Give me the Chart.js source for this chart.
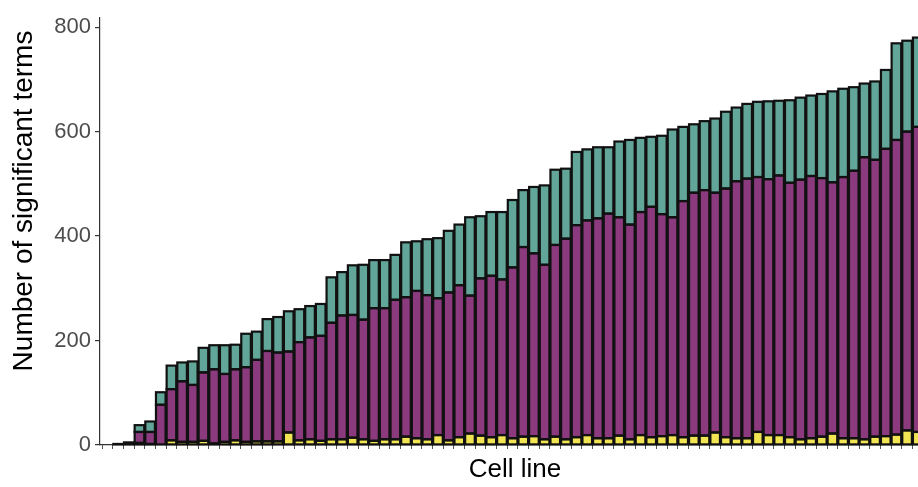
<!DOCTYPE html>
<html>
<head>
<meta charset="utf-8">
<script src="https://cdn.jsdelivr.net/npm/chart.js@4/dist/chart.umd.min.js"></script>
<style>
  html, body { margin: 0; padding: 0; background: #ffffff; overflow: hidden; }
  #wrap { position: relative; width: 918px; height: 487px; overflow: hidden; }
  #wrap canvas { position: absolute; left: 0; top: 0; }
</style>
</head>
<body>
<div id="wrap"><canvas id="chart" width="930" height="487"></canvas></div>
<script>
// Significant terms per cell line, split into three stacked groups (bottom to top).
const yellowCounts = [
  0, 0, 0, 4, 2, 0, 9, 6, 6, 8, 3, 6, 9, 6, 7, 7, 7, 24, 9, 11,
  8, 11, 11, 14, 11, 8, 11, 11, 16, 13, 11, 19, 9, 15, 22, 18, 15, 19, 13, 16,
  17, 11, 16, 11, 15, 19, 13, 13, 18, 11, 19, 15, 17, 19, 15, 18, 18, 24, 15, 13,
  13, 25, 19, 19, 15, 11, 13, 16, 22, 13, 13, 11, 16, 17, 20, 28, 25
];
const purpleCounts = [
  0, 2, 5, 21, 23, 77, 98, 116, 109, 131, 142, 130, 136, 143, 156, 173, 170, 155, 188, 195,
  201, 223, 237, 235, 229, 254, 251, 267, 267, 282, 276, 262, 283, 291, 264, 301, 309, 298, 327, 363,
  350, 334, 367, 384, 406, 411, 421, 430, 418, 411, 427, 441, 425, 417, 452, 465, 470, 459, 476, 492,
  497, 488, 490, 497, 487, 497, 502, 495, 481, 500, 512, 540, 530, 550, 564, 572, 584
];
const tealCounts = [
  0, 0, 0, 13, 20, 24, 45, 36, 45, 47, 46, 55, 47, 64, 54, 61, 68, 77, 63, 60,
  61, 87, 83, 95, 105, 92, 92, 86, 105, 95, 107, 115, 118, 116, 150, 119, 122, 129, 129, 109,
  127, 152, 144, 134, 140, 136, 136, 127, 145, 162, 142, 134, 150, 168, 142, 131, 132, 142, 147, 141,
  143, 144, 149, 143, 158, 157, 154, 161, 174, 169, 160, 141, 150, 151, 185, 174, 171
];
// Cell lines are placed in rank order along the x axis.
const cellLines = yellowCounts.map((_, i) => i);
const yTickValues = [0, 200, 400, 600, 800];
const xTitle = 'Cell line';
const yTitle = 'Number of significant terms';

const FONT = '"Liberation Sans", Arial, Helvetica, sans-serif';

// Rotated y-axis title, placed beside the tick labels.
const yTitlePlugin = {
  id: 'yTitle',
  afterDraw(chart) {
    const ctx = chart.ctx;
    ctx.save();
    ctx.translate(24, 201);
    ctx.rotate(-Math.PI / 2);
    ctx.font = '28px ' + FONT;
    ctx.fillStyle = '#000000';
    ctx.textAlign = 'center';
    ctx.textBaseline = 'middle';
    ctx.fillText(yTitle, 0, 0);
    ctx.restore();
  }
};

// Outline every stacked segment with a stroke centred on its edges,
// using the geometry of the bar elements laid out by Chart.js.
const segmentOutlinePlugin = {
  id: 'segmentOutline',
  afterDatasetsDraw(chart) {
    const ctx = chart.ctx;
    ctx.save();
    ctx.strokeStyle = '#111111';
    ctx.lineWidth = 2.2;
    ctx.lineJoin = 'miter';
    chart.data.datasets.forEach((ds, di) => {
      const meta = chart.getDatasetMeta(di);
      if (meta.hidden) return;
      meta.data.forEach(bar => {
        const { x, y, base, width } = bar.getProps(['x', 'y', 'base', 'width'], true);
        const h = Math.abs(base - y);
        if (h < 0.01) return;
        ctx.strokeRect(x - width / 2, Math.min(y, base), width, h);
      });
    });
    ctx.restore();
  }
};

const barStyle = {
  borderWidth: 0,
  inflateAmount: 0,
  barPercentage: 0.9,
  categoryPercentage: 1,
  stack: 'terms'
};

new Chart(document.getElementById('chart'), {
  type: 'bar',
  data: {
    labels: cellLines,
    datasets: [
      Object.assign({ label: 'group A', data: yellowCounts, backgroundColor: '#F1E553' }, barStyle),
      Object.assign({ label: 'group B', data: purpleCounts, backgroundColor: '#8B3A7E' }, barStyle),
      Object.assign({ label: 'group C', data: tealCounts, backgroundColor: '#62A69A' }, barStyle)
    ]
  },
  options: {
    responsive: false,
    animation: false,
    devicePixelRatio: 1,
    layout: { padding: { top: 13, left: 0, right: 0, bottom: 0 } },
    plugins: { legend: { display: false }, tooltip: { enabled: false } },
    scales: {
      x: {
        type: 'linear',
        min: -0.7,
        max: 77.15,
        stacked: true,
        offset: false,
        ticks: { display: false, stepSize: 1, maxTicksLimit: 1000, includeBounds: false },
        grid: { display: true, drawOnChartArea: false, drawTicks: true, tickLength: 4, color: '#555555', lineWidth: 1 },
        border: { display: true, color: '#333333', width: 1.2 },
        title: { display: true, text: xTitle, color: '#000000', font: { family: FONT, size: 26 }, padding: { top: 0, bottom: 2 } },
        afterFit(scale) { scale.height = 42; }
      },
      y: {
        type: 'linear',
        min: 0,
        max: 819,
        stacked: true,
        afterBuildTicks(scale) { scale.ticks = yTickValues.map(v => ({ value: v })); },
        ticks: { color: '#4D4D4D', font: { family: FONT, size: 22 }, padding: 4 },
        grid: { display: true, drawOnChartArea: false, drawTicks: true, tickLength: 5, color: '#333333', lineWidth: 1.2 },
        border: { display: true, color: '#333333', width: 1.2 },
        afterFit(scale) { scale.width = 100; }
      }
    }
  },
  plugins: [segmentOutlinePlugin, yTitlePlugin]
});
</script>
</body>
</html>
